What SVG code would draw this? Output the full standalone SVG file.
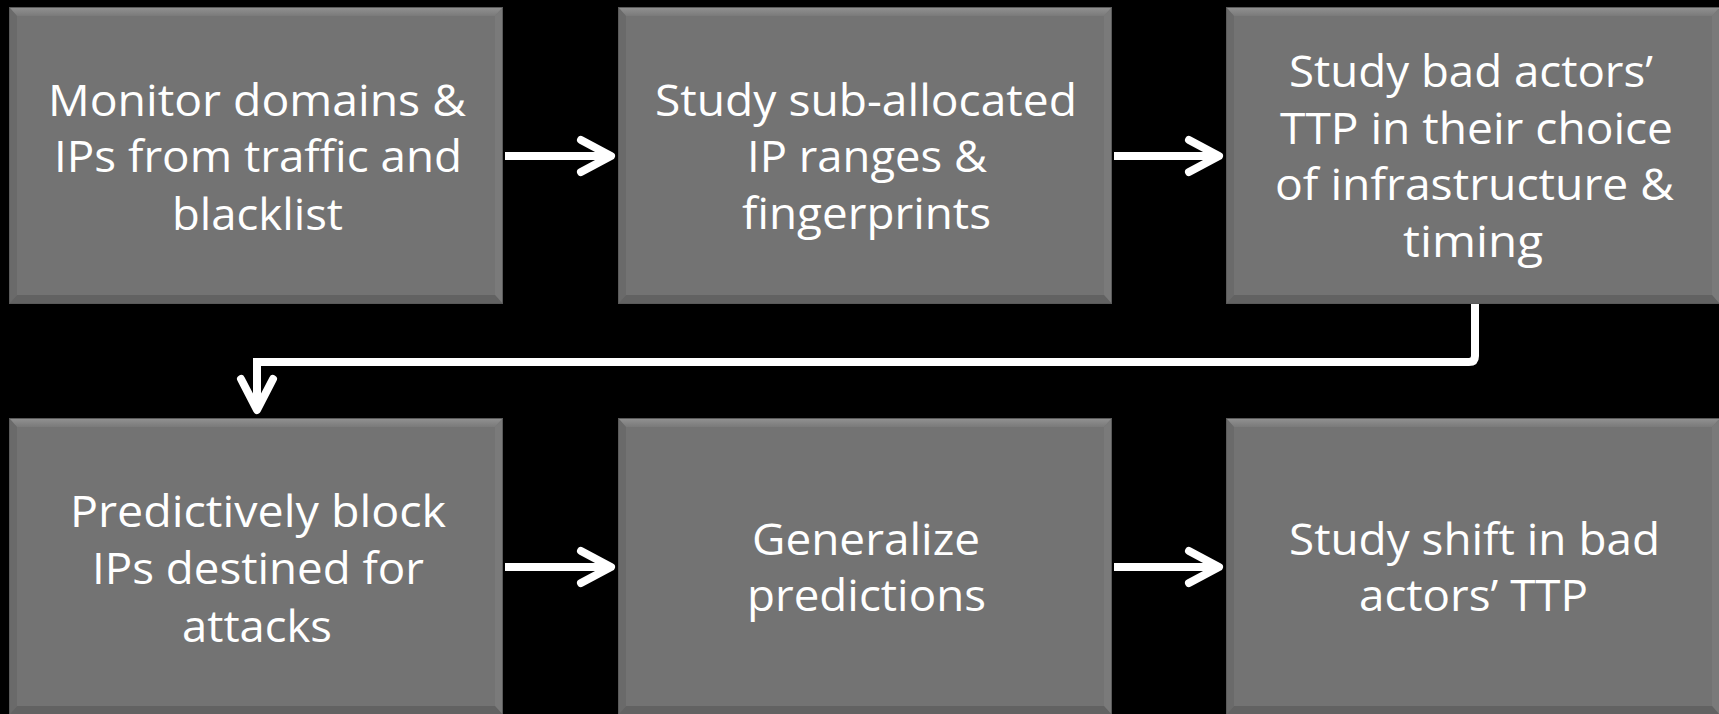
<svg xmlns="http://www.w3.org/2000/svg" xmlns:xlink="http://www.w3.org/1999/xlink" width="1719" height="714" viewBox="0 0 1719 714">
  <style>
    .t { font-family: "Open Sans", "Liberation Sans", sans-serif; font-size: 44px; fill: #ffffff; }
    .conn { fill: none; stroke: #ffffff; stroke-width: 8; }
    .head { fill: none; stroke: #ffffff; stroke-width: 8; stroke-linecap: round; stroke-linejoin: round; }
  </style>
  <defs>
    <linearGradient id="gTop" x1="0" y1="0" x2="0" y2="1">
      <stop offset="0" stop-color="#929292"/>
      <stop offset="1" stop-color="#7a7a7a"/>
    </linearGradient>
    <g id="box">
      <rect x="0" y="0" width="494" height="297" fill="#737373"/>
      <polygon points="0,0 494,0 486,9 8,9" fill="url(#gTop)"/>
      <polygon points="0,0 8,9 8,288 0,297" fill="#6a6a6a"/>
      <polygon points="494,0 486,9 486,288 494,297" fill="#7a7a7a"/>
      <polygon points="0,297 8,288 486,288 494,297" fill="#626262"/>
      <rect x="0.5" y="0.5" width="493" height="296" fill="none" stroke="#5a5a5a" stroke-width="1"/>
    </g>
  </defs>
  <rect width="1719" height="714" fill="#000000"/>

  <g id="connectors">
    <path class="conn" d="M505,156 H608"/>
    <path class="head" d="M581,140 L611,156 L581,172"/>
    <path class="conn" d="M1114,156 H1216"/>
    <path class="head" d="M1189,140 L1219,156 L1189,172"/>
    <path class="conn" d="M1475,304 V356 Q1475,362 1469,362 H257 V407"/>
    <path class="head" d="M241,379 L257,410 L273,379"/>
    <path class="conn" d="M505,567 H608"/>
    <path class="head" d="M581,551 L611,567 L581,583"/>
    <path class="conn" d="M1114,567 H1216"/>
    <path class="head" d="M1189,551 L1219,567 L1189,583"/>
  </g>

  <g id="node1">
    <use href="#box" x="9" y="7"/>
    <text class="t" x="48" y="116" textLength="418" lengthAdjust="spacingAndGlyphs">Monitor domains &amp;</text>
    <text class="t" x="54" y="172" textLength="408" lengthAdjust="spacingAndGlyphs">IPs from traffic and</text>
    <text class="t" x="172" y="230" textLength="171" lengthAdjust="spacingAndGlyphs">blacklist</text>
  </g>
  <g id="node2">
    <use href="#box" x="618" y="7"/>
    <text class="t" x="655" y="116" textLength="422" lengthAdjust="spacingAndGlyphs">Study sub-allocated</text>
    <text class="t" x="747" y="172" textLength="240" lengthAdjust="spacingAndGlyphs">IP ranges &amp;</text>
    <text class="t" x="742" y="229" textLength="249" lengthAdjust="spacingAndGlyphs">fingerprints</text>
  </g>
  <g id="node3">
    <use href="#box" x="1226" y="7"/>
    <text class="t" x="1289" y="87" textLength="364" lengthAdjust="spacingAndGlyphs">Study bad actors’</text>
    <text class="t" x="1280" y="144" textLength="393" lengthAdjust="spacingAndGlyphs">TTP in their choice</text>
    <text class="t" x="1275" y="200" textLength="399" lengthAdjust="spacingAndGlyphs">of infrastructure &amp;</text>
    <text class="t" x="1403" y="257" textLength="140" lengthAdjust="spacingAndGlyphs">timing</text>
  </g>
  <g id="node4">
    <use href="#box" x="9" y="418"/>
    <text class="t" x="70" y="527" textLength="376" lengthAdjust="spacingAndGlyphs">Predictively block</text>
    <text class="t" x="92" y="584" textLength="332" lengthAdjust="spacingAndGlyphs">IPs destined for</text>
    <text class="t" x="182" y="642" textLength="150" lengthAdjust="spacingAndGlyphs">attacks</text>
  </g>
  <g id="node5">
    <use href="#box" x="618" y="418"/>
    <text class="t" x="752" y="555" textLength="228" lengthAdjust="spacingAndGlyphs">Generalize</text>
    <text class="t" x="747" y="611" textLength="239" lengthAdjust="spacingAndGlyphs">predictions</text>
  </g>
  <g id="node6">
    <use href="#box" x="1226" y="418"/>
    <text class="t" x="1289" y="555" textLength="371" lengthAdjust="spacingAndGlyphs">Study shift in bad</text>
    <text class="t" x="1359" y="611" textLength="229" lengthAdjust="spacingAndGlyphs">actors’ TTP</text>
  </g>
</svg>
